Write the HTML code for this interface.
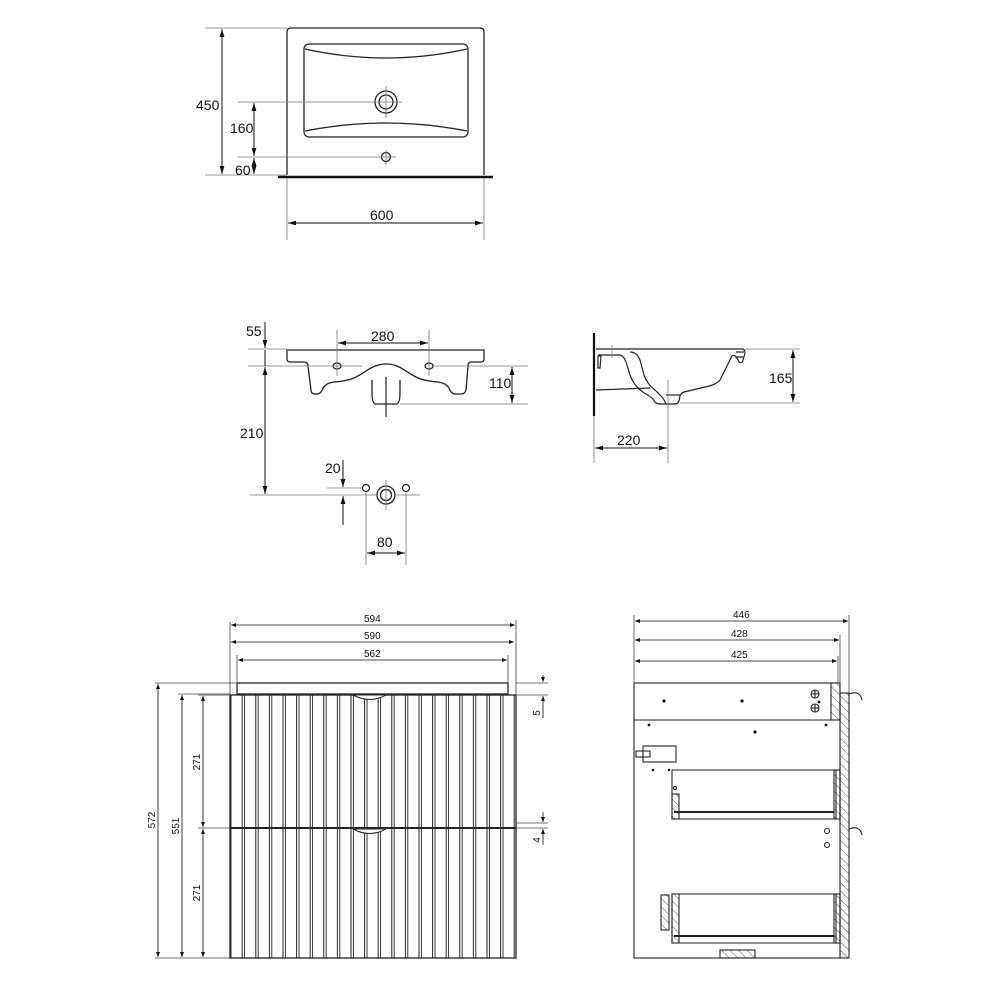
<!DOCTYPE html>
<html><head><meta charset="utf-8"><style>
html,body{margin:0;padding:0;background:#fff;}
svg{display:block;}
text{font-family:"Liberation Sans",sans-serif;fill:#111;}
</style></head><body>
<svg width="1000" height="1000" viewBox="0 0 1000 1000" xmlns="http://www.w3.org/2000/svg">
<defs>
<marker id="a" viewBox="0 0 10 10" refX="10" refY="5" markerWidth="8" markerHeight="8" orient="auto-start-reverse" markerUnits="userSpaceOnUse"><path d="M0,2 L10,5 L0,8 z" fill="#111"/></marker>
<marker id="s" viewBox="0 0 10 10" refX="10" refY="5" markerWidth="5" markerHeight="5" orient="auto-start-reverse" markerUnits="userSpaceOnUse"><path d="M0,1 L10,5 L0,9 z" fill="#111"/></marker>
<pattern id="slat" patternUnits="userSpaceOnUse" x="230" y="0" width="13.6" height="10">
<line x1="12.2" y1="0" x2="12.2" y2="10" stroke="#222" stroke-width="1"/>
<line x1="14.6" y1="0" x2="14.6" y2="10" stroke="#222" stroke-width="0.9"/>
<line x1="1" y1="0" x2="1" y2="10" stroke="#222" stroke-width="0.9"/>
</pattern>
<pattern id="h" patternUnits="userSpaceOnUse" width="6" height="6" patternTransform="rotate(-45)">
<line x1="0" y1="0" x2="0" y2="6" stroke="#222" stroke-width="0.8"/>
</pattern>
</defs>

<!-- ===== TOP VIEW ===== -->
<g fill="none" stroke="#222" stroke-width="1.3">
<path d="M287,175 V32 Q287,28 291,28 H480 Q484,28 484,32 V175"/>
<rect x="304" y="44" width="164" height="93" rx="5"/>
<path d="M305,49 Q386,67 467,49"/>
<path d="M305,131 Q386,115 467,131"/>
<circle cx="386" cy="102" r="11"/>
<circle cx="386" cy="102" r="7"/>
<circle cx="386" cy="157" r="4.5"/>
</g>
<line x1="278" y1="177" x2="493" y2="177" stroke="#111" stroke-width="2.5"/>
<g stroke="#777" stroke-width="0.8" fill="none">
<line x1="205" y1="28" x2="287" y2="28"/>
<line x1="205" y1="175" x2="287" y2="175"/>
<line x1="238" y1="102" x2="402" y2="102"/>
<line x1="238" y1="157" x2="396" y2="157"/>
<line x1="386" y1="86" x2="386" y2="118"/>
<line x1="386" y1="150" x2="386" y2="165"/>
<line x1="287" y1="178" x2="287" y2="240"/>
<line x1="484" y1="178" x2="484" y2="240"/>
</g>
<g stroke="#111" stroke-width="1" fill="none">
<line x1="222" y1="29" x2="222" y2="174" marker-start="url(#a)" marker-end="url(#a)"/>
<line x1="254" y1="103" x2="254" y2="156" marker-start="url(#a)" marker-end="url(#a)"/>
<line x1="254" y1="158" x2="254" y2="174" marker-end="url(#a)"/>
<line x1="254" y1="166" x2="254" y2="158" marker-end="url(#a)"/>
<line x1="288" y1="223" x2="483" y2="223" marker-start="url(#a)" marker-end="url(#a)"/>
</g>
<g font-size="14">
<text x="196" y="110">450</text>
<text x="230" y="133">160</text>
<text x="235" y="175">60</text>
<text x="370" y="220">600</text>
</g>

<!-- ===== FRONT VIEW BASIN ===== -->
<g fill="none" stroke="#222" stroke-width="1.3">
<path d="M287,350 H484 V359 Q484,362 481,362 H471 Q468,362 468,366 L466,390 Q465,394 461,394 H455 Q451,394 449,388 Q446,383 438,382 Q425,381 418,378 C405,372 400,364 386,364 C372,364 367,372 354,378 Q347,381 334,382 Q326,383 323,388 Q321,394 317,394 H315 Q311,394 311,390 L308,366 Q308,362 304,362 H290 Q287,362 287,359 Z"/>
<path d="M372,380 V393 Q372,404 376,404 H396 Q400,404 400,393 V380"/>
<ellipse cx="337" cy="366" rx="4" ry="3"/>
<ellipse cx="429" cy="366" rx="4" ry="3"/>
<circle cx="366" cy="488" r="3.5"/>
<circle cx="406" cy="488" r="3.5"/>
<circle cx="386" cy="495" r="9"/>
<circle cx="386" cy="495" r="5.5"/>
</g>
<line x1="386" y1="377" x2="386" y2="417" stroke="#222" stroke-width="1.2"/>
<g stroke="#777" stroke-width="0.8" fill="none">
<line x1="248" y1="349" x2="287" y2="349"/>
<line x1="248" y1="366" x2="362" y2="366"/>
<line x1="433" y1="366" x2="528" y2="366"/>
<line x1="400" y1="404" x2="528" y2="404"/>
<line x1="337" y1="330" x2="337" y2="376"/>
<line x1="429" y1="330" x2="429" y2="376"/>
<line x1="250" y1="495" x2="376" y2="495"/>
<line x1="396" y1="495" x2="420" y2="495"/>
<line x1="327" y1="488" x2="362" y2="488"/>
<line x1="366" y1="492" x2="366" y2="565"/>
<line x1="406" y1="492" x2="406" y2="565"/>
<line x1="386" y1="480" x2="386" y2="510"/>
</g>
<g stroke="#111" stroke-width="1" fill="none">
<line x1="338" y1="343" x2="428" y2="343" marker-start="url(#a)" marker-end="url(#a)"/>
<line x1="265" y1="322" x2="265" y2="348" marker-end="url(#a)"/>
<line x1="265" y1="367" x2="265" y2="494" marker-start="url(#a)" marker-end="url(#a)"/>
<line x1="265" y1="350" x2="265" y2="366"/>
<line x1="512" y1="367" x2="512" y2="403" marker-start="url(#a)" marker-end="url(#a)"/>
<line x1="343" y1="460" x2="343" y2="487" marker-end="url(#a)"/>
<line x1="343" y1="525" x2="343" y2="496" marker-end="url(#a)"/>
<line x1="367" y1="553" x2="405" y2="553" marker-start="url(#a)" marker-end="url(#a)"/>
</g>
<g font-size="14">
<text x="246" y="336">55</text>
<text x="371" y="341">280</text>
<text x="489" y="388">110</text>
<text x="240" y="438">210</text>
<text x="325" y="473">20</text>
<text x="377" y="547">80</text>
</g>

<!-- ===== SIDE VIEW BASIN ===== -->
<line x1="594" y1="333" x2="594" y2="416" stroke="#111" stroke-width="2.2"/>
<g fill="none" stroke="#222" stroke-width="1.2">
<path d="M596,349 H742 Q745,349 745,353 L743,360 Q742,364 739,362 L737,358 Q734,354 732,356 L720,380 Q716,385 705,387 L684,392 Q681,393 680,396 L679,401 Q678,404 674,404 H660 Q655,404 653,399 Q650,396 644,393 L638,388 Q633,383 630,375 L626,362 Q624,356 620,355 H598"/>
<path d="M630,352 Q637,352 640,360 L644,375 Q647,384 655,390 L661,396 Q664,399 666,404"/>
<path d="M736,352 H744 M735,357 H743"/>
<path d="M598,356 L601,356 L600,368 L598,368 Z"/>
<path d="M596,390 L650,388"/>
<path d="M666,395 H680"/>
</g>
<g stroke="#777" stroke-width="0.8" fill="none">
<line x1="745" y1="349" x2="800" y2="349"/>
<line x1="680" y1="403" x2="800" y2="403"/>
<line x1="668" y1="380" x2="668" y2="463"/>
<line x1="594" y1="416" x2="594" y2="463"/>
<line x1="612" y1="345" x2="612" y2="358"/>
</g>
<g stroke="#111" stroke-width="1" fill="none">
<line x1="793" y1="350" x2="793" y2="402" marker-start="url(#a)" marker-end="url(#a)"/>
<line x1="595" y1="448" x2="667" y2="448" marker-start="url(#a)" marker-end="url(#a)"/>
</g>
<g font-size="14">
<text x="769" y="383">165</text>
<text x="617" y="445">220</text>
</g>

<!-- ===== CABINET FRONT ===== -->
<rect x="230" y="695" width="286" height="263" fill="url(#slat)"/>
<g fill="none" stroke="#222" stroke-width="1.3">
<rect x="230" y="695" width="286" height="263"/>
<rect x="237" y="683" width="271" height="11"/>
</g>
<line x1="230" y1="828" x2="516" y2="828" stroke="#111" stroke-width="2"/>
<g fill="#fff" stroke="#222" stroke-width="1">
<path d="M353,695 Q370,704 386,695 Z"/>
<path d="M353,829 Q370,838 386,829 Z"/>
</g>
<g stroke="#444" stroke-width="0.8" fill="none">
<line x1="230" y1="622" x2="230" y2="695"/>
<line x1="516" y1="620" x2="516" y2="695"/>
<line x1="237" y1="655" x2="237" y2="683"/>
<line x1="508" y1="655" x2="508" y2="683"/>
<line x1="155" y1="683" x2="237" y2="683"/>
<line x1="178" y1="694" x2="230" y2="694"/>
<line x1="198" y1="695" x2="230" y2="695"/>
<line x1="198" y1="828" x2="548" y2="828"/>
<line x1="155" y1="958" x2="230" y2="958"/>
<line x1="516" y1="683" x2="548" y2="683"/>
<line x1="516" y1="695" x2="548" y2="695"/>
<line x1="516" y1="823" x2="548" y2="823"/>
</g>
<g stroke="#111" stroke-width="0.8" fill="none">
<line x1="231" y1="625" x2="515" y2="625" marker-start="url(#s)" marker-end="url(#s)"/>
<line x1="231" y1="642" x2="514" y2="642" marker-start="url(#s)" marker-end="url(#s)"/>
<line x1="238" y1="660" x2="507" y2="660" marker-start="url(#s)" marker-end="url(#s)"/>
<line x1="158" y1="684" x2="158" y2="957" marker-start="url(#s)" marker-end="url(#s)"/>
<line x1="182" y1="695" x2="182" y2="957" marker-start="url(#s)" marker-end="url(#s)"/>
<line x1="203" y1="696" x2="203" y2="827" marker-start="url(#s)" marker-end="url(#s)"/>
<line x1="203" y1="829" x2="203" y2="957" marker-start="url(#s)" marker-end="url(#s)"/>
<line x1="543" y1="675" x2="543" y2="682" marker-end="url(#s)"/>
<line x1="543" y1="718" x2="543" y2="696" marker-end="url(#s)"/>
<line x1="543" y1="812" x2="543" y2="822" marker-end="url(#s)"/>
<line x1="543" y1="845" x2="543" y2="829" marker-end="url(#s)"/>
</g>
<g font-size="10">
<text x="364" y="622">594</text>
<text x="364" y="639">590</text>
<text x="364" y="657">562</text>
<text transform="translate(155,820) rotate(-90)" text-anchor="middle">572</text>
<text transform="translate(179,826) rotate(-90)" text-anchor="middle">551</text>
<text transform="translate(200,762) rotate(-90)" text-anchor="middle">271</text>
<text transform="translate(200,893) rotate(-90)" text-anchor="middle">271</text>
<text transform="translate(540,713) rotate(-90)" text-anchor="middle">5</text>
<text transform="translate(540,840) rotate(-90)" text-anchor="middle">4</text>
</g>

<!-- ===== CABINET SIDE ===== -->
<g stroke="#222" stroke-width="1.1" fill="none">
<rect x="634" y="683" width="206" height="275"/>
<line x1="634" y1="720" x2="840" y2="720"/>
<rect x="831" y="683" width="9" height="37" fill="url(#h)"/>
<rect x="840" y="693" width="9" height="265" fill="url(#h)"/>
<path d="M672,819 V770 H836 V819 Z"/>
<rect x="672" y="794" width="7" height="25" fill="url(#h)"/>
<rect x="834" y="770" width="6" height="49" fill="url(#h)"/>
<line x1="674" y1="812" x2="834" y2="812" stroke-width="2"/>
<path d="M672,943 V894 H836 V943 Z"/>
<rect x="672" y="894" width="7" height="49" fill="url(#h)"/>
<rect x="834" y="894" width="6" height="49" fill="url(#h)"/>
<line x1="674" y1="936" x2="834" y2="936" stroke-width="2"/>
<rect x="661" y="895" width="8" height="35" fill="url(#h)"/>
<rect x="720" y="950" width="35" height="8" fill="url(#h)"/>
<path d="M849,694 Q860,690 862,700"/>
<path d="M849,829 Q860,825 862,835"/>
<rect x="643" y="746" width="33" height="16"/>
<rect x="636" y="751" width="14" height="6"/>
<circle cx="815" cy="694" r="4"/>
<circle cx="815" cy="708" r="4"/>
<path d="M811,694 H819 M815,690 V698 M811,708 H819 M815,704 V712"/>
<circle cx="827" cy="831" r="2.5"/>
<circle cx="827" cy="845" r="2.5"/>
<circle cx="675" cy="788" r="1.5"/>
</g>
<g fill="#111">
<circle cx="664" cy="701" r="1.6"/><circle cx="742" cy="701" r="1.6"/><circle cx="819" cy="702" r="1.4"/>
<circle cx="649" cy="725" r="1.4"/><circle cx="755" cy="732" r="1.6"/><circle cx="826" cy="725" r="1.4"/>
<circle cx="653" cy="770" r="1.3"/><circle cx="669" cy="770" r="1.3"/>
</g>
<g stroke="#444" stroke-width="0.8" fill="none">
<line x1="634" y1="615" x2="634" y2="683"/>
<line x1="849" y1="615" x2="849" y2="693"/>
<line x1="840" y1="635" x2="840" y2="683"/>
<line x1="838" y1="656" x2="838" y2="683"/>
</g>
<g stroke="#111" stroke-width="0.8" fill="none">
<line x1="635" y1="621" x2="848" y2="621" marker-start="url(#s)" marker-end="url(#s)"/>
<line x1="635" y1="640" x2="839" y2="640" marker-start="url(#s)" marker-end="url(#s)"/>
<line x1="635" y1="661" x2="837" y2="661" marker-start="url(#s)" marker-end="url(#s)"/>
</g>
<g font-size="10">
<text x="733" y="618">446</text>
<text x="731" y="637">428</text>
<text x="731" y="658">425</text>
</g>
</svg>
</body></html>
